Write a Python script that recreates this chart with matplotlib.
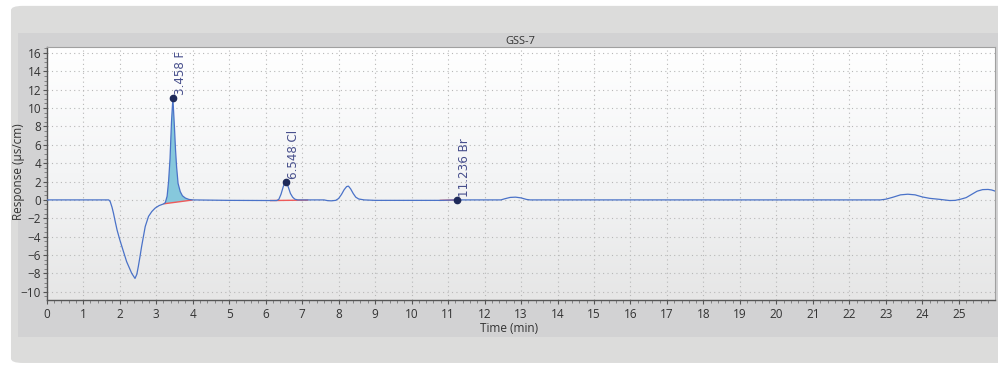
import numpy as np
import matplotlib
matplotlib.use("Agg")
import matplotlib.pyplot as plt
from matplotlib.patches import FancyBboxPatch, Rectangle
from matplotlib.ticker import MultipleLocator

TITLE = "GSS-7"

# chromatogram trace (time in min, response in uS/cm)
TIME = [0.0, 1.7, 1.74, 1.79, 1.83, 1.88, 1.93, 2.0, 2.07, 2.19, 2.33, 2.42,
        2.47, 2.51, 2.56, 2.6, 2.65, 2.7, 2.79, 2.88, 2.97, 3.08, 3.2,
        3.25, 3.3, 3.34, 3.38, 3.42, 3.458, 3.5, 3.53, 3.56, 3.6, 3.66,
        3.72, 3.8, 3.9, 4.0, 5.0, 6.3,
        6.36, 6.42, 6.48, 6.52, 6.548, 6.58, 6.63, 6.68, 6.74, 6.8, 6.88,
        7.2, 7.6, 7.7, 7.8, 7.92, 8.0, 8.08, 8.15, 8.22, 8.27, 8.33, 8.4,
        8.47, 8.55, 8.7, 9.0, 10.8, 11.236,
        12.45, 12.55, 12.7, 12.85, 13.0, 13.15, 13.25,
        22.85, 23.0, 23.2, 23.4, 23.6, 23.8, 24.0, 24.2, 24.45, 24.6,
        24.75, 24.9, 25.05, 25.2, 25.35, 25.5, 25.65, 25.8, 25.9, 26.0]
RESPONSE = [0.0, 0.0, -0.18, -0.8, -1.45, -2.4, -3.3, -4.3, -5.2, -6.72, -8.0, -8.55,
            -8.1, -7.27, -6.1, -5.1, -4.0, -2.9, -1.8, -1.27, -0.9, -0.62, -0.44,
            -0.3, 0.4, 2.0, 4.5, 8.5, 11.1, 8.0, 5.5, 3.6, 1.8, 0.9,
            0.45, 0.2, 0.05, 0.0, -0.05, -0.07,
            0.05, 0.6, 1.4, 1.85, 2.0, 1.85, 1.3, 0.7, 0.3, 0.08, 0.0,
            0.0, 0.0, -0.08, -0.1, -0.05, 0.15, 0.6, 1.1, 1.45, 1.5, 1.2, 0.7,
            0.3, 0.1, 0.0, -0.05, -0.05, 0.0,
            0.0, 0.12, 0.27, 0.3, 0.22, 0.05, 0.0,
            0.0, 0.08, 0.3, 0.55, 0.62, 0.55, 0.32, 0.17, 0.07, 0.0,
            -0.07, -0.05, 0.08, 0.25, 0.6, 0.95, 1.12, 1.14, 1.08, 0.95]

# identified peaks
PEAK_NAMES = ["F", "Cl", "Br"]
PEAK_TIMES = [3.458, 6.548, 11.236]
PEAK_HEIGHTS = [11.1, 2.0, 0.0]

# integration baselines (start time, start y, end time, end y)
BASE_T0 = [3.22, 6.14, 10.79]
BASE_Y0 = [-0.42, -0.07, -0.05]
BASE_T1 = [3.98, 7.15, 11.236]
BASE_Y1 = [-0.02, -0.02, 0.0]

LINE = "#4a72c8"
RED = "#ee5a5a"
FILL = "#86c8dc"
LABEL = "#474f8c"
TXT = "#333333"

fig = plt.figure(figsize=(9.98, 3.67), dpi=100)
fig.patch.set_facecolor("white")

# outer and inner grey panels
fig.patches.append(FancyBboxPatch((0.011, 0.011), 1.0, 0.973,
                                  boxstyle="round,pad=0,rounding_size=0.012",
                                  transform=fig.transFigure, fc="#dcdcdb",
                                  ec="none", zorder=-3))
fig.patches.append(Rectangle((0.018, 0.082), 0.99, 0.828,
                             transform=fig.transFigure, fc="#d2d2d3",
                             ec="none", zorder=-2))

ax = fig.add_axes([0.0468, 0.1826, 0.9502, 0.688])
ax.set_xlim(0, 25.99)
ax.set_ylim(-10.9, 16.6)

# soft white->grey gradient inside the plot
grad = np.linspace(0, 1, 256).reshape(-1, 1)
ax.imshow(grad, extent=[0, 25.99, -10.9, 16.6], aspect="auto", origin="upper",
          cmap=matplotlib.colors.LinearSegmentedColormap.from_list(
              "bg", ["#ffffff", "#f4f5f6", "#e6e6e6"]), zorder=0)

ax.grid(True, which="major", linestyle=(0, (1, 3)), color="#b8b8b8", lw=0.8, zorder=1)

# shaded F peak area
i0 = next(i for i, t in enumerate(TIME) if t >= BASE_T0[0])
i1 = next(i for i, t in enumerate(TIME) if t >= BASE_T1[0])
poly_x = [BASE_T0[0]] + TIME[i0:i1] + [BASE_T1[0]]
poly_y = [BASE_Y0[0]] + RESPONSE[i0:i1] + [BASE_Y1[0]]
ax.fill(poly_x, poly_y, color=FILL, lw=0, zorder=2)

for t0, y0, t1, y1 in zip(BASE_T0, BASE_Y0, BASE_T1, BASE_Y1):
    ax.plot([t0, t1], [y0, y1], color=RED, lw=1.0, zorder=3)

ax.plot(TIME, RESPONSE, color=LINE, lw=0.9, zorder=4)

for name, t, h in zip(PEAK_NAMES, PEAK_TIMES, PEAK_HEIGHTS):
    ax.plot(t, h, "o", color="#1e2a5a", ms=4.5, zorder=5)
    ax.annotate("{:.3f} {}".format(t, name), (t, h), xytext=(8, 3),
                textcoords="offset pixels", rotation=90, ha="center",
                va="bottom", fontsize=8.6, color=LABEL,
                family="DejaVu Sans", zorder=6)

ax.set_title(TITLE, fontsize=8, family="Open Sans", color=TXT, pad=2)
ax.set_xlabel("Time (min)", fontsize=8.5, family="Open Sans", color=TXT)
ax.set_ylabel("Response (\u00b5s/cm)", fontsize=8.5, family="Open Sans", color=TXT)
ax.xaxis.set_label_coords(0.4875, -0.088)
ax.yaxis.set_label_coords(-0.023, 0.51)

ax.xaxis.set_major_locator(MultipleLocator(1))
ax.xaxis.set_minor_locator(MultipleLocator(0.2))
ax.yaxis.set_major_locator(MultipleLocator(2))
ax.yaxis.set_minor_locator(MultipleLocator(0.5))
ax.tick_params(which="major", direction="out", length=3, width=0.8,
               color="#555555", labelsize=8.5, labelcolor=TXT)
ax.tick_params(axis="x", which="major", pad=3)
ax.tick_params(axis="y", which="major", pad=1)
ax.tick_params(which="minor", direction="out", length=2, width=0.6, color="#777777")
for lab in ax.get_xticklabels() + ax.get_yticklabels():
    lab.set_family("Open Sans")

for side in ["top", "right"]:
    ax.spines[side].set_color("#a0a0a0")
    ax.spines[side].set_linewidth(0.8)
for side in ["left", "bottom"]:
    ax.spines[side].set_color("#555555")
    ax.spines[side].set_linewidth(1.0)

fig.savefig("out.png", dpi=100)
